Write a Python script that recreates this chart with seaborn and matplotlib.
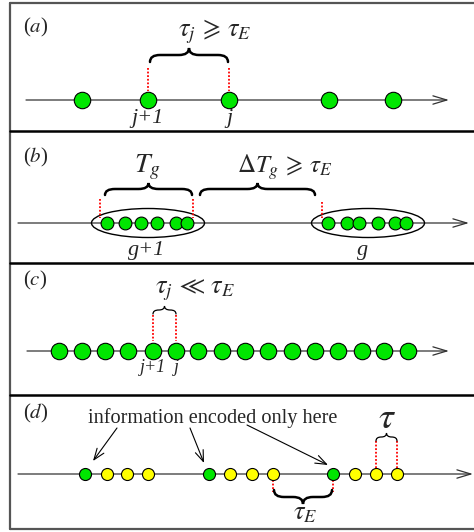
import numpy as np
import matplotlib
matplotlib.use("Agg")
import matplotlib.pyplot as plt
import seaborn as sns
from matplotlib.path import Path
from matplotlib.patches import PathPatch, Ellipse

sns.set_style("white")
plt.rcParams.update({
    "font.family": ["Liberation Serif", "DejaVu Serif"],
    "mathtext.fontset": "stix",
})

GREEN  = "#00e600"
YELLOW = "#ffff00"
RED    = "#ff0000"
LINE   = "#333333"

# event positions (pixel units along each time axis)
a_events = [82, 148, 229, 329, 393]
b_group_next = [107, 125, 141, 157, 176, 187]
b_group_cur  = [328, 347, 359, 378, 395, 406]
c_events = [59, 82, 105, 128, 153, 176, 198, 222, 245, 268, 292, 315, 338, 362, 384, 408]
d_green  = [85, 209, 333]
d_yellow = [107, 127, 148, 230, 252, 273, 355, 376, 397]

panel_labels = ["($a$)", "($b$)", "($c$)", "($d$)"]
axis_y = [100, 223, 351, 474]


def brace(ax, x0, x1, y, h, up=True, lw=1.8):
    s = -1 if up else 1
    xm = (x0 + x1) / 2
    q = min(10, (x1 - x0) / 4)
    yb = y + s * h * 0.5
    yt = y + s * h
    verts = [(x0, y), (x0, yb), (x0 + q, yb),
             (xm - q, yb),
             (xm, yb), (xm, yt),
             (xm, yb), (xm + q, yb),
             (x1 - q, yb),
             (x1, yb), (x1, y)]
    codes = [Path.MOVETO, Path.CURVE3, Path.CURVE3,
             Path.LINETO,
             Path.CURVE3, Path.CURVE3,
             Path.CURVE3, Path.CURVE3,
             Path.LINETO,
             Path.CURVE3, Path.CURVE3]
    ax.add_patch(PathPatch(Path(verts, codes), fill=False, lw=lw,
                           color="black", capstyle="round", zorder=4))


def time_axis(ax, x0, x1, y):
    ax.annotate("", xy=(x1, y), xytext=(x0, y),
                arrowprops=dict(arrowstyle="->,head_length=1.0,head_width=0.3",
                                mutation_scale=10, lw=0.9, color=LINE,
                                shrinkA=0, shrinkB=0), zorder=1)


def dotted(ax, x, y0, y1):
    ax.plot([x, x], [y0, y1], color=RED, ls=(0, (1, 1)), lw=1.3, zorder=2)


def dots(ax, xs, y, color, size):
    sns.scatterplot(x=xs, y=[y] * len(xs), s=size, color=color,
                    edgecolor="black", linewidth=0.8, ax=ax, zorder=3,
                    legend=False)


fig = plt.figure(figsize=(4.74, 5.32), dpi=100)
ax = fig.add_axes([0, 0, 1, 1])
ax.set_xlim(0, 474)
ax.set_ylim(532, 0)
ax.axis("off")

# frame
ax.plot([10, 10], [2.5, 529], color="#555555", lw=1.6)
ax.plot([10, 480], [2.5, 2.5], color="#555555", lw=1.6)
ax.plot([10, 480], [529, 529], color="#555555", lw=1.6)
for ys in [131, 263, 395]:
    ax.plot([10, 480], [ys, ys], color="black", lw=1.8)

label_y = [27, 157, 280, 413]
for lab, ly in zip(panel_labels, label_y):
    ax.text(23, ly, lab, fontsize=15, ha="left", va="center")

# (a)
time_axis(ax, 26, 449, axis_y[0])
dots(ax, a_events, axis_y[0], GREEN, 140)
dotted(ax, a_events[1], 68, 91)
dotted(ax, a_events[2], 68, 91)
brace(ax, a_events[1] + 2, a_events[2] - 1, 62, 14, up=True, lw=1.8)
ax.text(215, 32, r"$\tau_j\,\geqslant\,\tau_E$", fontsize=19, ha="center", va="center")
ax.text(a_events[1], 118, "j+1", fontsize=16, ha="center", va="center", style="italic")
ax.text(a_events[2], 118, "j", fontsize=16, ha="center", va="center", style="italic")

# (b)
time_axis(ax, 18, 469, axis_y[1])
ax.add_patch(Ellipse((148, axis_y[1]), 113, 29, fill=False, lw=1.0, color="black", zorder=2))
ax.add_patch(Ellipse((368, axis_y[1]), 113, 29, fill=False, lw=1.0, color="black", zorder=2))
dots(ax, b_group_next, axis_y[1], GREEN, 85)
dots(ax, b_group_cur, axis_y[1], GREEN, 85)
dotted(ax, 100, 199, 218)
dotted(ax, 193, 199, 218)
dotted(ax, 322, 202, 218)
brace(ax, 105, 192, 195, 12, up=True, lw=1.8)
brace(ax, 200, 315, 195, 12, up=True, lw=1.8)
ax.text(147, 167, r"$T_g$", fontsize=20, ha="center", va="center")
ax.text(285, 167, r"$\Delta T_g\,\geqslant\,\tau_E$", fontsize=18, ha="center", va="center")
ax.text(147, 250, "g+1", fontsize=16, ha="center", va="center", style="italic")
ax.text(363, 250, "g", fontsize=16, ha="center", va="center", style="italic")

# (c)
time_axis(ax, 27, 449, axis_y[2])
dots(ax, c_events, axis_y[2], GREEN, 140)
dotted(ax, c_events[4], 315, 341)
dotted(ax, c_events[5], 315, 341)
brace(ax, c_events[4], c_events[5], 314, 8, up=True, lw=0.9)
ax.text(195, 290, r"$\tau_j\,\ll\,\tau_E$", fontsize=19, ha="center", va="center")
ax.text(c_events[4], 367, "j+1", fontsize=13, ha="center", va="center", style="italic")
ax.text(c_events[5], 367, "j", fontsize=13, ha="center", va="center", style="italic")

# (d)
time_axis(ax, 18, 473, axis_y[3])
dots(ax, d_green, axis_y[3], GREEN, 75)
dots(ax, d_yellow, axis_y[3], YELLOW, 75)
ax.text(213, 418, "information encoded only here", fontsize=14.6, ha="center", va="center")
arr = dict(arrowstyle="->,head_length=0.8,head_width=0.3", mutation_scale=10,
           lw=0.8, color="black", shrinkA=0, shrinkB=0)
ax.annotate("", xy=(93, 461), xytext=(117, 428), arrowprops=arr)
ax.annotate("", xy=(204, 463), xytext=(190, 428), arrowprops=arr)
ax.annotate("", xy=(328, 465), xytext=(247, 425), arrowprops=arr)
dotted(ax, 376, 441, 468)
dotted(ax, 397, 441, 468)
brace(ax, 376, 397, 441, 8, up=True, lw=0.9)
ax.text(387, 419, r"$\tau$", fontsize=27, ha="center", va="center")
dotted(ax, 273, 480, 492)
dotted(ax, 333, 480, 492)
brace(ax, 274, 332, 490, 14, up=False, lw=1.8)
ax.text(305, 514, r"$\tau_E$", fontsize=19, ha="center", va="center")

plt.savefig("out.png", dpi=100)
plt.close()
